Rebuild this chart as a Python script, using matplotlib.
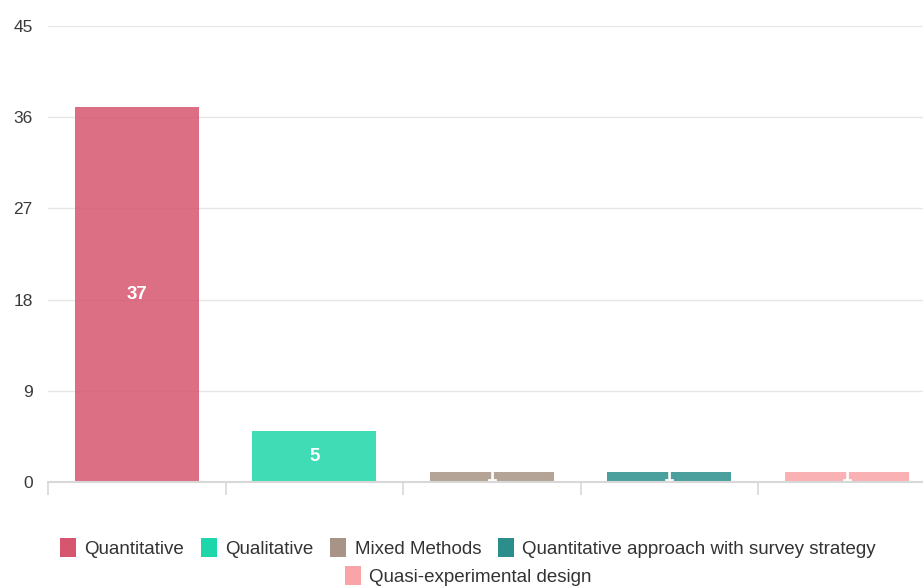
import matplotlib
matplotlib.use("Agg")
import matplotlib.pyplot as plt
from matplotlib.patches import Patch

plt.rcParams['font.family'] = ['Liberation Sans', 'DejaVu Sans']

categories = ["Quantitative", "Qualitative", "Mixed Methods",
              "Quantitative approach with survey strategy", "Quasi-experimental design"]
values = [37, 5, 1, 1, 1]
colors = ["#d6566f", "#1dd6a9", "#a79486", "#2b8e8b", "#f9a4a6"]
yticks = [0, 9, 18, 27, 36, 45]

W, H = 923, 586
fig = plt.figure(figsize=(W / 100, H / 100), dpi=100)
left, right = 48, 48 + 5 * 177.5
top, bottom = 26, 482
ax = fig.add_axes([left / W, 1 - bottom / H, (right - left) / W, (bottom - top) / H])

x = list(range(len(categories)))
ax.bar(x, values, width=0.7, color=colors, alpha=0.85, zorder=2)
for xi, v in zip(x, values):
    ax.text(xi, v / 2, str(v), ha='center', va='center', color='white',
            fontsize=13.5, fontweight='bold', zorder=2.2)

ax.set_xlim(-0.5, 4.5)
ax.set_ylim(0, 45)
ax.set_yticks(yticks)
ax.set_yticklabels([str(t) for t in yticks])
ax.tick_params(axis='y', length=0, pad=11, labelsize=12.5, labelcolor='#3a3a3a')
ax.set_xticks([i - 0.5 for i in range(5)])
ax.set_xticklabels([])
ax.tick_params(axis='x', length=9, color='#d8d8d8', width=1.2)
ax.grid(axis='y', color='#e6e6e6', linewidth=1, zorder=0)
for s in ['top', 'right', 'left']:
    ax.spines[s].set_visible(False)
ax.spines['bottom'].set_color('#d8d8d8')
ax.spines['bottom'].set_linewidth(1.5)
ax.spines['bottom'].set_zorder(3)

handles = [Patch(facecolor=c, edgecolor='none') for c in colors]
kw = dict(frameon=False, fontsize=13.5, handlelength=0.85, handleheight=1.2,
          handletextpad=0.45, columnspacing=0.9, labelcolor='#333333')
leg1 = fig.legend(handles[:4], categories[:4], ncol=4, loc='center',
                  bbox_to_anchor=(468 / W, 1 - 548 / H), **kw)
leg2 = fig.legend(handles[4:], categories[4:], ncol=1, loc='center',
                  bbox_to_anchor=(468 / W, 1 - 576 / H), **kw)

fig.savefig("out.png", dpi=100)
